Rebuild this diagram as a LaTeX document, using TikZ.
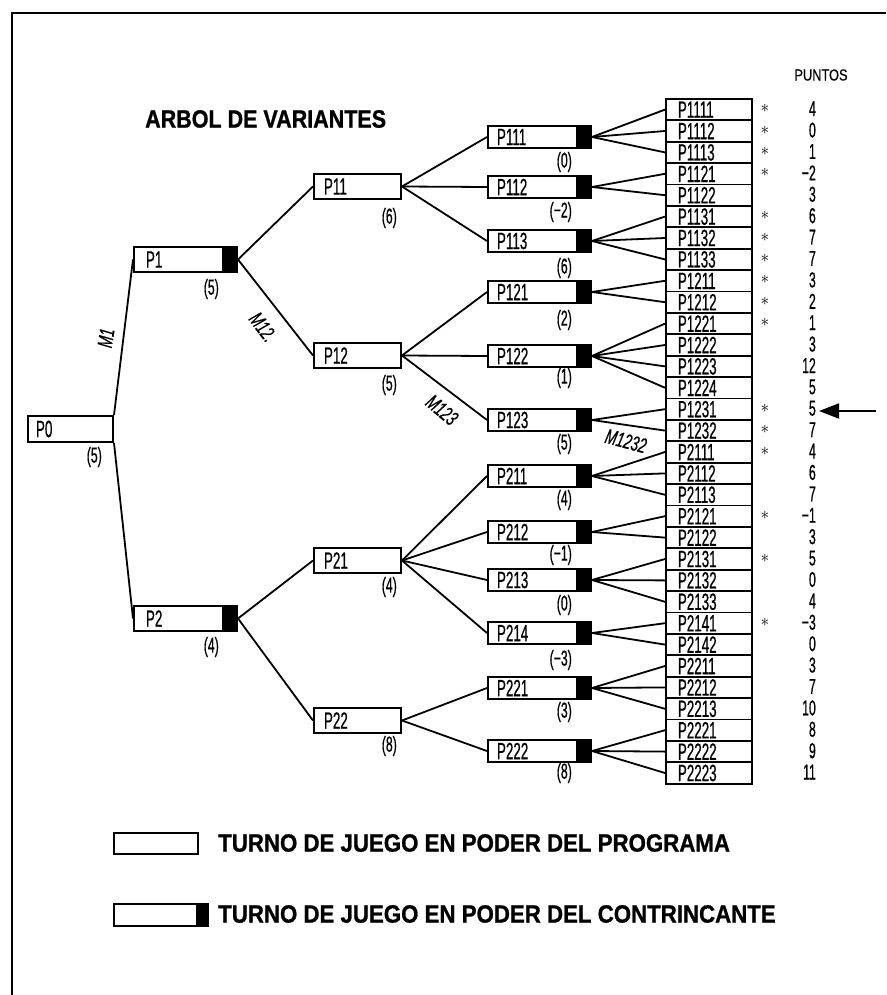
\documentclass[tikz,border=0pt]{standalone}
\usepackage{fontspec}
\usetikzlibrary{arrows.meta}
\newfontfamily\cnd[FakeStretch=0.57,FakeBold=0.6]{Liberation Sans}
\newfontfamily\cndm[FakeStretch=0.65,FakeBold=0.5]{Liberation Sans}
\newfontfamily\hdr[FakeStretch=0.86,FakeBold=1]{Liberation Sans}
\newfontfamily\hdrl[FakeStretch=0.89,FakeBold=1]{Liberation Sans}
\newfontfamily\pts[FakeStretch=0.8,FakeBold=0.4]{Liberation Sans}
\newcommand\lfnt{\cnd\fontsize{23.5}{23.5}\selectfont}
\newcommand\vfnt{\cnd\fontsize{21.5}{21.5}\selectfont}
\newcommand\mfnt{\cndm\itshape\fontsize{21}{21}\selectfont}
\newcommand\tfnt{\hdr\bfseries\fontsize{25}{25}\selectfont}
\newcommand\gfnt{\hdrl\bfseries\fontsize{25}{25}\selectfont}
\begin{document}
\begin{tikzpicture}[x=1pt,y=-1pt,
  pbox/.style={draw, line width=2pt, rectangle, inner ysep=0pt, align=left, anchor=north west, font=\lfnt},
  lvA/.style={pbox, text width=69pt, inner xsep=8pt, minimum height=26pt},
  lvB/.style={pbox, text width=79pt, inner xsep=12pt, minimum height=25pt},
  lvC/.style={pbox, text width=67pt, inner xsep=10pt, minimum height=25pt},
  lvD/.style={pbox, text width=85pt, inner xsep=9pt, minimum height=22pt},
  leafbox/.style={pbox, line width=1.8pt, text width=62pt, inner xsep=12pt, minimum height=21.4pt},
  opp/.style={path picture={\fill[black] ([xshift=-15pt]path picture bounding box.north east) rectangle (path picture bounding box.south east);}},
  conn/.style={line width=1.8pt},
  vlbl/.style={anchor=east, inner sep=0pt, font=\vfnt},
  numlbl/.style={anchor=east, inner sep=0pt, font=\vfnt},
  mlbl/.style={inner sep=0pt, font=\mfnt},
  astk/.style={inner sep=0pt, font=\fontsize{17}{17}\selectfont},
  lgtxt/.style={anchor=west, inner sep=0pt, font=\gfnt}
]
\useasboundingbox (0,0) rectangle (886,995);
% frame
\draw[line width=2pt] (12,995) -- (12,13) -- (886,13);

% title
\node[anchor=west, inner sep=0pt, font=\tfnt] (title) at (145,119) {ARBOL DE VARIANTES};
\node[inner sep=0pt, font=\pts\fontsize{16}{16}\selectfont] (puntos) at (821,75) {PUNTOS};

% level 0
\node[lvA] (P0) at (27,415) {P0};
% level 1
\node[lvB, opp] (P1) at (133,246) {P1};
\node[lvB, opp] (P2) at (133,605) {P2};
% level 2
\node[lvC] (P11) at (313,173) {P11};
\node[lvC] (P12) at (313,342) {P12};
\node[lvC] (P21) at (313,547) {P21};
\node[lvC] (P22) at (313,707) {P22};
% level 3
\node[lvD, opp] (P111) at (487,125) {P111};
\node[lvD, opp] (P112) at (487,175) {P112};
\node[lvD, opp] (P113) at (487,229) {P113};
\node[lvD, opp] (P121) at (487,280) {P121};
\node[lvD, opp] (P122) at (487,344) {P122};
\node[lvD, opp] (P123) at (487,408) {P123};
\node[lvD, opp] (P211) at (487,464) {P211};
\node[lvD, opp] (P212) at (487,520) {P212};
\node[lvD, opp] (P213) at (487,568) {P213};
\node[lvD, opp] (P214) at (487,621) {P214};
\node[lvD, opp] (P221) at (487,676) {P221};
\node[lvD, opp] (P222) at (487,739) {P222};

% values
\node[vlbl] (v0) at (102,457) {(5)};
\node[vlbl] (v1) at (219,289) {(5)};
\node[vlbl] (v2) at (219,647) {(4)};
\node[vlbl] (v11) at (397,218) {(6)};
\node[vlbl] (v12) at (397,385) {(5)};
\node[vlbl] (v21) at (397,587) {(4)};
\node[vlbl] (v22) at (397,746) {(8)};
\node[vlbl] (v111) at (572,162) {(0)};
\node[vlbl] (v112) at (572,212) {(−2)};
\node[vlbl] (v113) at (572,268) {(6)};
\node[vlbl] (v121) at (572,320) {(2)};
\node[vlbl] (v122) at (572,378) {(1)};
\node[vlbl] (v123) at (572,444) {(5)};
\node[vlbl] (v211) at (572,500) {(4)};
\node[vlbl] (v212) at (572,555) {(−1)};
\node[vlbl] (v213) at (572,605) {(0)};
\node[vlbl] (v214) at (572,660) {(−3)};
\node[vlbl] (v221) at (572,712) {(3)};
\node[vlbl] (v222) at (572,773) {(8)};

% leaves
\foreach \i/\nm/\v in {1/P1111/4,2/P1112/0,3/P1113/1,4/P1121/−2,5/P1122/3,6/P1131/6,7/P1132/7,8/P1133/7,
  9/P1211/3,10/P1212/2,11/P1221/1,12/P1222/3,13/P1223/12,14/P1224/5,15/P1231/5,16/P1232/7,
  17/P2111/4,18/P2112/6,19/P2113/7,20/P2121/−1,21/P2122/3,22/P2131/5,23/P2132/0,24/P2133/4,
  25/P2141/−3,26/P2142/0,27/P2211/3,28/P2212/7,29/P2213/10,30/P2221/8,31/P2222/9,32/P2223/11}{
  \pgfmathsetmacro\yy{98+(\i-1)*21.4}
  \node[leafbox] (L\i) at (665,\yy) {\nm};
  \node[numlbl] (N\i) at (816,\yy+10.7) {\v};
}
\foreach \i in {1,2,3,4,6,7,8,9,10,11,15,16,17,20,22,25}{
  \node[astk] (S\i) at (765,{98+(\i-0.5)*21.4}) {$\ast$};
}

% connectors
\draw[conn] (P0.north east) -- (P1.west);
\draw[conn] (P0.south east) -- (P2.west);
\draw[conn] (P1.east) -- (P11.west);
\draw[conn] (P1.east) -- (P12.west);
\draw[conn] (P2.east) -- (P21.west);
\draw[conn] (P2.east) -- (P22.west);
\foreach \a/\b in {P11/P111,P11/P112,P11/P113,P12/P121,P12/P122,P12/P123,
  P21/P211,P21/P212,P21/P213,P21/P214,P22/P221,P22/P222}{
  \draw[conn] (\a.east) -- (\b.west);
}
\foreach \a/\b in {P111/1,P111/2,P111/3,P112/4,P112/5,P113/6,P113/7,P113/8,
  P121/9,P121/10,P122/11,P122/12,P122/13,P122/14,P123/15,P123/16,
  P211/17,P211/18,P211/19,P212/20,P212/21,P213/22,P213/23,P213/24,
  P214/25,P214/26,P221/27,P221/28,P221/29,P222/30,P222/31,P222/32}{
  \draw[conn] (\a.east) -- (L\b.west);
}

% move labels
\node[mlbl, rotate=81] (m1) at (106,338) {M1};
\node[mlbl, rotate=-53] (m12) at (263,327) {M12.};
\node[mlbl, rotate=-40] (m123) at (442,410) {M123};
\node[mlbl, rotate=-15] (m1232) at (626,441) {M1232};

% arrow
\coordinate (arrT) at (876,411);
\coordinate (arrH) at (819,411);
\draw[line width=1.8pt, -{Triangle[length=20pt,width=15pt]}] (arrT) -- (arrH);

% legend
\node[draw, line width=2pt, inner sep=0pt, minimum width=84pt, minimum height=21pt, anchor=north west] (legA) at (113,832) {};
\node[draw, line width=2pt, inner sep=0pt, minimum width=94pt, minimum height=22pt, anchor=north west,
  path picture={\fill[black] ([xshift=-12pt]path picture bounding box.north east) rectangle (path picture bounding box.south east);}] (legB) at (113,903) {};
\node[lgtxt] (legAt) at (218,843) {TURNO DE JUEGO EN PODER DEL PROGRAMA};
\node[lgtxt] (legBt) at (218,914) {TURNO DE JUEGO EN PODER DEL CONTRINCANTE};
\end{tikzpicture}
\end{document}
